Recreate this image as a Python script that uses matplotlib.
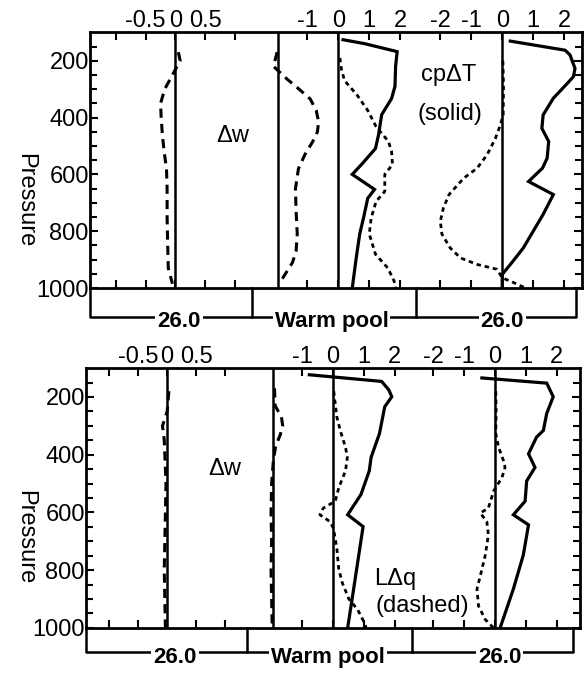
import numpy as np
import matplotlib.pyplot as plt

plt.rcParams['font.family'] = ['Liberation Sans', 'DejaVu Sans']
plt.rcParams['axes.unicode_minus'] = False

# ---- upper panel ----
p_dw26_a = [170, 200, 250, 300, 350, 400, 460, 520, 580, 650, 750, 850, 930, 985]
dw26_a = [0.05, 0.08, -0.05, -0.18, -0.25, -0.24, -0.22, -0.19, -0.15, -0.14, -0.14, -0.13, -0.12, -0.05]

p_dwwp_a = [170, 220, 265, 300, 335, 375, 415, 450, 485, 530, 580, 650, 730, 810, 870, 910, 950, 980]
dwwp_a = [-0.02, -0.08, 0.15, 0.35, 0.54, 0.64, 0.68, 0.66, 0.58, 0.45, 0.34, 0.29, 0.30, 0.32, 0.30, 0.24, 0.12, 0.03]

p_twp_a = [126, 140, 168, 220, 290, 333, 390, 460, 509, 565, 600, 653, 684, 750, 810, 900, 1000]
twp_a = [0.15, 0.85, 1.9, 1.85, 1.83, 1.72, 1.4, 1.3, 1.2, 0.75, 0.45, 1.17, 0.95, 0.82, 0.69, 0.57, 0.45]

p_qwp_a = [190, 230, 270, 320, 375, 432, 484, 520, 565, 600, 660, 695, 754, 810, 881, 930, 975, 1000]
qwp_a = [0.05, 0.1, 0.2, 0.6, 0.95, 1.22, 1.62, 1.72, 1.75, 1.5, 1.5, 1.22, 1.06, 1.0, 1.2, 1.6, 1.8, 1.85]

p_t26_a = [131, 163, 180, 227, 256, 280, 332, 391, 438, 484, 543, 578, 625, 671, 741, 800, 859, 905, 952, 1000]
t26_a = [0.26, 2.03, 2.19, 2.35, 2.3, 2.1, 1.65, 1.32, 1.28, 1.5, 1.45, 1.3, 0.85, 1.65, 1.32, 1.0, 0.68, 0.35, 0.0, 0.0]

p_q26_a = [200, 239, 300, 391, 426, 473, 531, 578, 613, 671, 718, 765, 810, 859, 894, 917, 934, 964, 981, 1000]
q26_a = [0.02, 0.03, 0.04, 0.03, -0.06, -0.22, -0.49, -0.81, -1.24, -1.72, -1.9, -2.0, -1.95, -1.68, -1.35, -0.81, -0.17, 0.0, 0.37, 0.75]

# ---- lower panel ----
p_dw26_b = [180, 250, 300, 350, 400, 500, 600, 700, 800, 900, 1000]
dw26_b = [0.03, 0.0, -0.08, -0.05, -0.04, -0.02, -0.03, -0.04, -0.05, -0.04, -0.03]

p_dwwp_b = [170, 230, 270, 300, 330, 370, 420, 500, 600, 700, 800, 900, 1000]
dwwp_b = [0.02, 0.03, 0.14, 0.16, 0.12, 0.04, 0.0, -0.03, -0.04, -0.03, -0.04, -0.03, -0.02]

p_twp_b = [123, 146, 175, 199, 234, 327, 409, 456, 538, 608, 649, 748, 889, 1000]
twp_b = [-0.77, 1.57, 1.8, 1.9, 1.67, 1.5, 1.23, 1.17, 0.9, 0.47, 0.97, 0.83, 0.63, 0.47]

p_qwp_b = [180, 234, 269, 316, 374, 409, 456, 515, 561, 585, 608, 632, 655, 725, 795, 842, 900, 936, 982, 1000]
qwp_b = [0.02, 0.08, 0.12, 0.23, 0.4, 0.46, 0.4, 0.18, 0.07, -0.32, -0.43, -0.1, 0.01, 0.12, 0.18, 0.29, 0.51, 0.79, 1.01, 1.07]

p_t26_b = [134, 152, 199, 257, 316, 339, 397, 444, 491, 561, 608, 643, 748, 865, 1000]
t26_b = [-0.43, 1.67, 1.88, 1.67, 1.56, 1.34, 1.08, 1.29, 1.02, 0.97, 0.59, 1.08, 0.91, 0.59, 0.16]

p_q26_b = [180, 250, 327, 374, 421, 444, 479, 526, 585, 602, 632, 678, 748, 819, 865, 924, 971, 1000]
q26_b = [0.02, 0.03, 0.02, 0.11, 0.27, 0.32, 0.22, -0.05, -0.22, -0.48, -0.27, -0.22, -0.32, -0.48, -0.59, -0.54, -0.32, -0.05]

dw_ticks = [-0.5, 0, 0.5]
dw_labels = ['-0.5', '0', '0.5']
wp_ticks = [-1, 0, 1, 2]
wp_labels = ['-1', '0', '1', '2']
t26_ticks = [-2, -1, 0, 1, 2]
t26_labels = ['-2', '-1', '0', '1', '2']
groups = ['26.0', 'Warm pool', '26.0']

fig = plt.figure(figsize=(5.86, 6.73), dpi=100)


def make_panel(rect, zeros, spans, curves, bracket):
    ax = fig.add_axes(rect)
    ax.set_xlim(0, 1)
    ax.set_ylim(1000, 100)
    ax.set_xticks([])
    ax.set_yticks([200, 400, 600, 800, 1000])
    ax.set_yticks(np.arange(150, 1000, 50), minor=True)
    ax.tick_params(axis='y', which='both', direction='in', left=True, right=True,
                   labelsize=17, pad=1, width=1.5)
    ax.tick_params(axis='y', which='major', length=6)
    ax.tick_params(axis='y', which='minor', length=5)
    for s in ax.spines.values():
        s.set_linewidth(2)

    ticks = [(dw_ticks, dw_labels, [-1, 1]), ([], [], []),
             (wp_ticks, wp_labels, []), (t26_ticks, t26_labels, [])]
    for i in range(4):
        a = ax.twiny()
        lo = -zeros[i] * spans[i]
        a.set_xlim(lo, lo + spans[i])
        a.set_xticks(ticks[i][0])
        a.set_xticklabels(ticks[i][1])
        a.set_xticks(ticks[i][2], minor=True)
        a.tick_params(axis='x', which='both', top=True, bottom=True, labeltop=True,
                      labelbottom=False, direction='in', length=6, width=1.5,
                      labelsize=17, pad=0)
        for s in a.spines.values():
            s.set_visible(False)
        a.axvline(0, color='black', lw=1.8)
        for p, v, style in curves[i]:
            if style == 'solid':
                a.plot(v, p, color='black', lw=2.3, solid_joinstyle='miter')
            elif style == 'dw':
                a.plot(v, p, color='black', lw=2.2, dashes=(3, 2))
            else:
                a.plot(v, p, color='black', lw=2.0, dashes=(1.6, 1.4))

    # group bracket under the frame
    yb, yt, xs, xr = bracket
    kw = dict(transform=ax.transAxes, clip_on=False, color='black', lw=1.8)
    ax.plot([0, 0, xr, xr], [0, yb, yb, 0], **kw)
    for x in xs:
        ax.plot([x, x], [0, yb], **kw)
    for x, t in zip([0.18, 0.49, 0.837], groups):
        ax.text(x, yt, t, transform=ax.transAxes, ha='center', va='center',
                fontsize=16, fontweight='bold',
                bbox=dict(facecolor='white', edgecolor='none', pad=1.5))
    return ax


top = make_panel([0.154, 0.572, 0.840, 0.380], [0.173, 0.382, 0.504, 0.837],
                 [8.3, 8.3, 15.9, 15.9],
                 [[(p_dw26_a, dw26_a, 'dw')], [(p_dwwp_a, dwwp_a, 'dw')],
                  [(p_twp_a, twp_a, 'solid'), (p_qwp_a, qwp_a, 'q')],
                  [(p_t26_a, t26_a, 'solid'), (p_q26_a, q26_a, 'q')]],
                 (-0.112, -0.13, [0.329, 0.661], 0.986))
top.text(0.29, 465, 'Δw', fontsize=17, ha='center', va='center')
top.text(0.728, 249, 'cpΔT', fontsize=17, ha='center', va='center')
top.text(0.73, 386, '(solid)', fontsize=17, ha='center', va='center')

bot = make_panel([0.147, 0.067, 0.843, 0.386], [0.164, 0.379, 0.50, 0.828],
                 [8.5, 8.5, 16.0, 16.0],
                 [[(p_dw26_b, dw26_b, 'dw')], [(p_dwwp_b, dwwp_b, 'dw')],
                  [(p_twp_b, twp_b, 'solid'), (p_qwp_b, qwp_b, 'q')],
                  [(p_t26_b, t26_b, 'solid'), (p_q26_b, q26_b, 'q')]],
                 (-0.092, -0.115, [0.326, 0.66], 0.986))
bot.text(0.28, 449, 'Δw', fontsize=17, ha='center', va='center')
bot.text(0.625, 832, 'LΔq', fontsize=17, ha='center', va='center')
bot.text(0.68, 923, '(dashed)', fontsize=17, ha='center', va='center')

fig.text(25 / 586, 1 - 200 / 673, 'Pressure', rotation=-90, ha='center', va='center', fontsize=17)
fig.text(25 / 586, 1 - 537 / 673, 'Pressure', rotation=-90, ha='center', va='center', fontsize=17)

fig.savefig('out.png', dpi=100)
